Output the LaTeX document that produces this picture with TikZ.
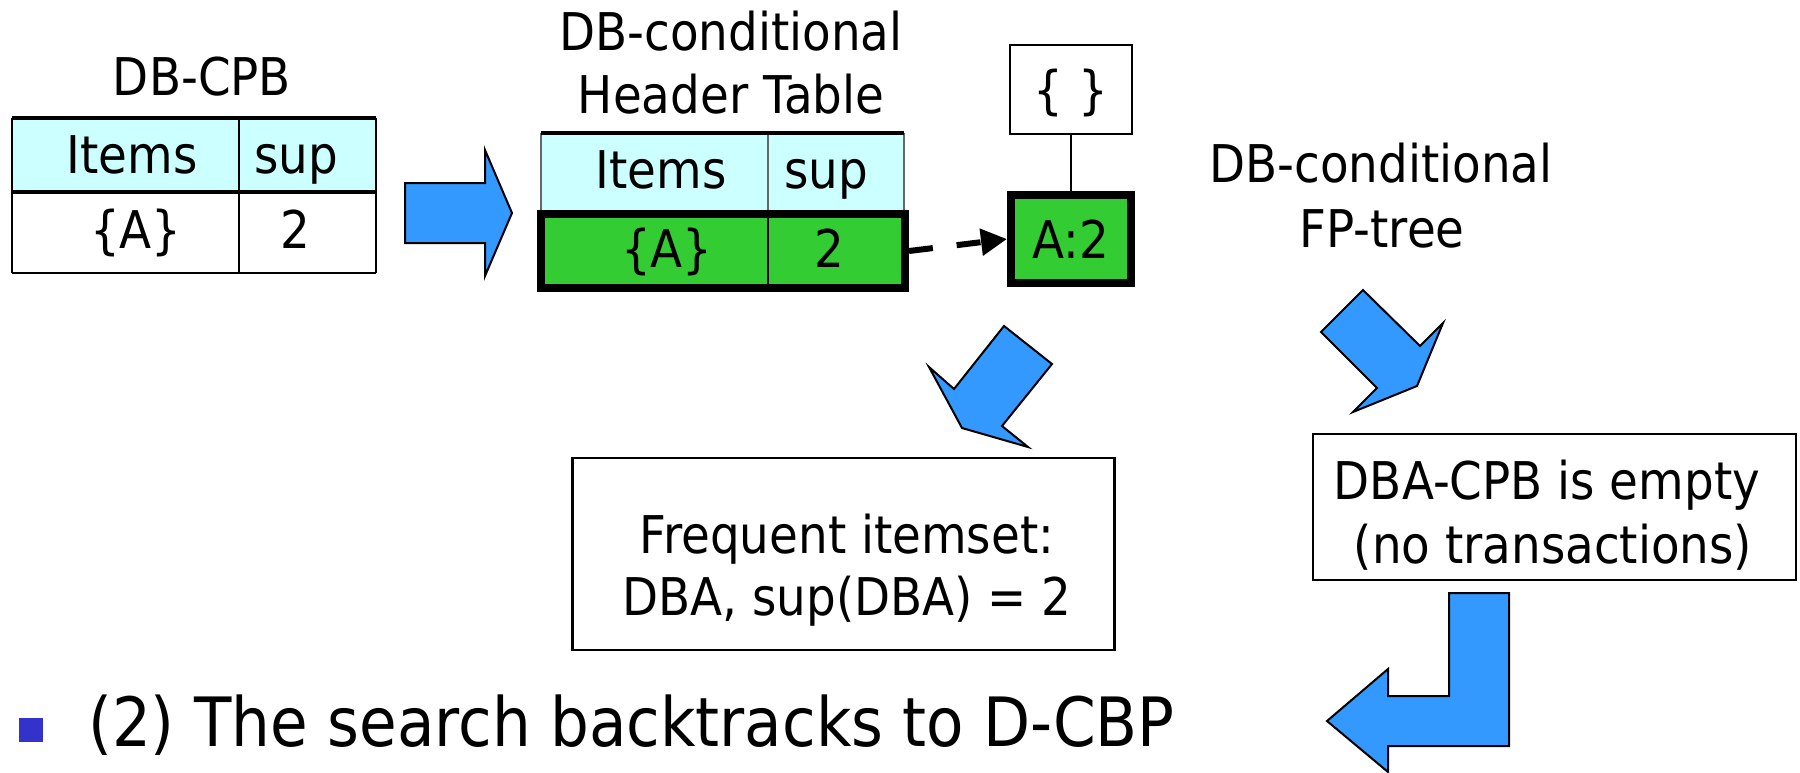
\documentclass[tikz,border=0pt]{standalone}
\usepackage{fontspec}
\setmainfont{DejaVu Sans}[FakeStretch=0.9]
\usetikzlibrary{arrows.meta}
\definecolor{hcyan}{HTML}{CCFFFF}
\definecolor{hgreen}{HTML}{33CC33}
\definecolor{hblue}{HTML}{3399FF}
\definecolor{hbullet}{HTML}{3333CC}
\begin{document}
\begin{tikzpicture}[x=1pt,y=-1pt,
  txt/.style={font=\fontsize{52}{64}\selectfont, inner sep=0pt, anchor=base},
  boxtxt/.style={font=\fontsize{52}{64}\selectfont, text height=38pt, text depth=0pt},
  blockarrow/.style={fill=hblue, draw=black, line width=2pt, line join=miter},
  plainbox/.style={draw=black, line width=2.5pt, fill=white, inner sep=0pt},
  greenbox/.style={draw=black, line width=8pt, fill=hgreen, inner sep=0pt},
  thickrule/.style={line width=4pt},
  thinrule/.style={line width=2pt},
  greyrule/.style={line width=1.5pt, draw=black!60}
]
\useasboundingbox (0,0) rectangle (1800,772);

% ---------- DB-CPB table ----------
\node[txt] (t1title) at (202,95) {DB-CPB};
\fill[hcyan] (12,118) rectangle (376,192);
\node[txt] (t1items) at (132,173) {Items};
\node[txt] (t1sup) at (296,173) {sup};
\node[txt] (t1a) at (136,248) {\{A\}};
\node[txt] (t1two) at (295,248) {2};
\draw[thickrule] (12,118) -- (376,118);
\draw[thickrule] (12,192) -- (376,192);
\draw[thinrule] (12,273) -- (376,273);
\draw[thinrule] (12,118) -- (12,273);
\draw[thinrule] (239,118) -- (239,273);
\draw[thinrule] (376,118) -- (376,273);

% ---------- big right arrow ----------
\draw[blockarrow] (405,183) -- (485,183) -- (485,150) -- (512,213) -- (485,276) -- (485,243) -- (405,243) -- cycle;

% ---------- header table ----------
\node[txt] (t2title1) at (731,50) {DB-conditional};
\node[txt] (t2title2) at (731,113) {Header Table};
\fill[hcyan] (541,133) rectangle (904,212);
\node[txt] (t2items) at (661,188) {Items};
\node[txt] (t2sup) at (826,188) {sup};
\draw[greyrule] (541,133) -- (541,212);
\draw[greyrule] (768,133) -- (768,212);
\draw[greyrule] (904,133) -- (904,212);
\draw[thickrule] (541,133) -- (904,133);
\node[greenbox, minimum width=364pt, minimum height=74pt] (grow) at (723,251) {};
\draw[line width=1.5pt] (768,214) -- (768,288);
\node[txt] (t2a) at (667,267) {\{A\}};
\node[txt] (t2two) at (829,267) {2};

% ---------- FP-tree ----------
\node[plainbox, boxtxt, minimum width=122pt, minimum height=89pt] (root) at (1071,89.5) {\{ \}};
\node[greenbox, boxtxt, minimum width=120pt, minimum height=88pt] (a2) at (1071,239) {A:2};
\draw[line width=2.5pt] (root) -- (a2);
\draw[line width=6pt, dash pattern=on 24pt off 24pt, -{Triangle[length=26pt,width=26pt]}] (grow.east) -- (a2.west);

\node[txt] (fp1) at (1381,182) {DB-conditional};
\node[txt] (fp2) at (1382,247) {FP-tree};

% ---------- diagonal arrows ----------
\draw[blockarrow] (1004,326) -- (1052,364) -- (1002,426) -- (1028,447) -- (962,428) -- (929,367) -- (954,389) -- cycle;
\draw[blockarrow] (1363,290) -- (1321,332) -- (1377,388) -- (1353,412) -- (1417,386) -- (1443,323) -- (1420,346) -- cycle;

% ---------- result boxes ----------
\node[plainbox, minimum width=542pt, minimum height=192pt] (freq) at (843.5,554) {};
\node[txt] (freq1) at (847,553) {Frequent itemset:};
\node[txt] (freq2) at (847,615) {DBA, sup(DBA) = 2};

\node[plainbox, minimum width=483pt, minimum height=146pt] (empty) at (1554.5,507) {};
\node[txt] (empty1) at (1547,499) {DBA-CPB is empty};
\node[txt] (empty2) at (1553,563) {(no transactions)};

% ---------- L arrow ----------
\draw[blockarrow] (1449,593) -- (1509,593) -- (1509,746) -- (1388,746) -- (1388,772) -- (1327,721) -- (1388,669) -- (1388,696) -- (1449,696) -- cycle;

% ---------- bullet line ----------
\node[fill=hbullet, minimum size=24pt, inner sep=0pt] (bsq) at (31,729.5) {};
\node[font=\fontsize{68}{80}\selectfont, inner sep=0pt, anchor=base west] (bottom) at (88,746) {(2) The search backtracks to D-CBP};
\end{tikzpicture}
\end{document}
